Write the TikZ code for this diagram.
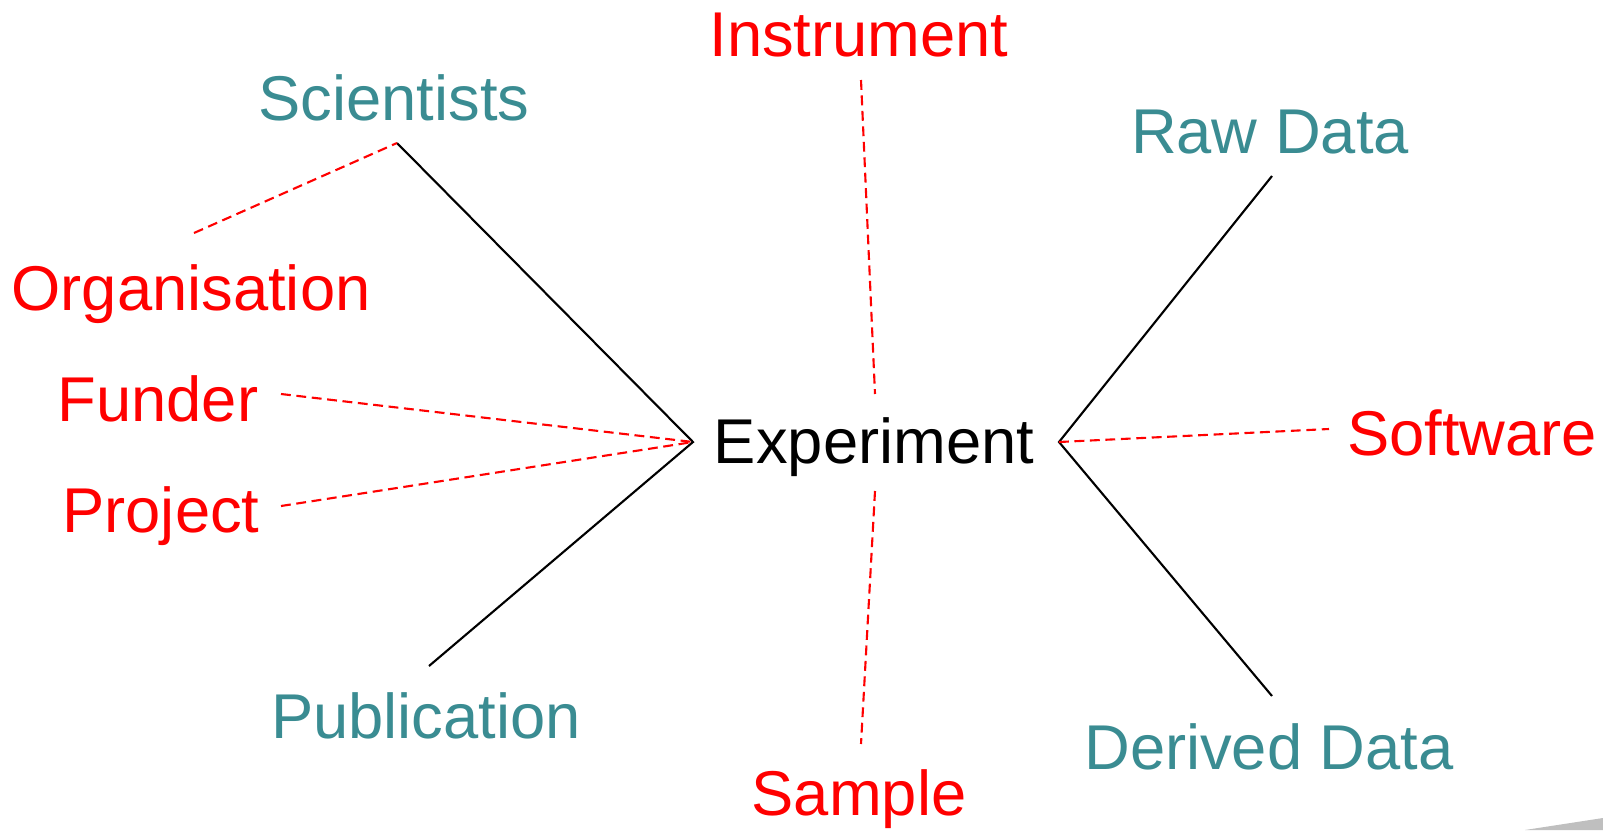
\documentclass[tikz,border=0pt]{standalone}
\usepackage{fontspec}
\setmainfont{Liberation Sans}
\setsansfont{Liberation Sans}
\definecolor{tealtext}{RGB}{58,140,146}
\definecolor{linkred}{RGB}{255,0,0}
\begin{document}
\begin{tikzpicture}[
    x=0.01cm, y=-0.01cm,
    font=\sffamily\fontsize{18}{21}\selectfont,
    main/.style={
        anchor=base,
        inner sep=0pt,
        text=black
    },
    entity/.style={
        anchor=base,
        inner sep=0pt,
        text=tealtext
    },
    extra/.style={
        anchor=base,
        inner sep=0pt,
        text=linkred
    },
    solidlink/.style={
        draw=black,
        line width=0.6pt
    },
    dashlink/.style={
        draw=linkred,
        line width=0.6pt,
        dash pattern=on 2.8pt off 1.6pt
    }
]
\useasboundingbox (0,0) rectangle (1603,830);

% page shadow in the corner
\fill[black!25] (1525,830) -- (1603,818) -- (1603,830) -- cycle;

\node[main] (exp) at (874,463) {Experiment};

\node[entity] (sci) at (394,120) {Scientists};
\node[entity] (pub) at (426,738) {Publication};
\node[entity] (raw) at (1270,153) {Raw Data};
\node[entity] (derived) at (1269,769) {Derived Data};

\node[extra] (instr) at (859,56) {Instrument};
\node[extra] (org) at (191,310) {Organisation};
\node[extra] (fund) at (158,421) {Funder};
\node[extra] (proj) at (161,532) {Project};
\node[extra] (soft) at (1472,455) {Software};
\node[extra] (sample) at (859,815) {Sample};

\coordinate (hubL) at (693,442);
\coordinate (hubR) at (1059,442);
\coordinate (sciTip) at (397,143);
\coordinate (pubTip) at (429,666);
\coordinate (rawTip) at (1272,176);
\coordinate (derTip) at (1272,696);
\coordinate (orgTip) at (194,233);
\coordinate (fundTip) at (281,394);
\coordinate (projTip) at (281,506);
\coordinate (instrTip) at (861,80);
\coordinate (instrEnd) at (875,394);
\coordinate (sampEnd) at (875,491);
\coordinate (sampTip) at (861,744);
\coordinate (softTip) at (1329,429);

\draw[solidlink] (sciTip) -- (hubL) -- (pubTip);
\draw[solidlink] (rawTip) -- (hubR) -- (derTip);

\draw[dashlink] (orgTip) -- (sciTip);
\draw[dashlink] (fundTip) -- (hubL);
\draw[dashlink] (projTip) -- (hubL);
\draw[dashlink] (instrTip) -- (instrEnd);
\draw[dashlink] (sampEnd) -- (sampTip);
\draw[dashlink] (hubR) -- (softTip);

\end{tikzpicture}
\end{document}
